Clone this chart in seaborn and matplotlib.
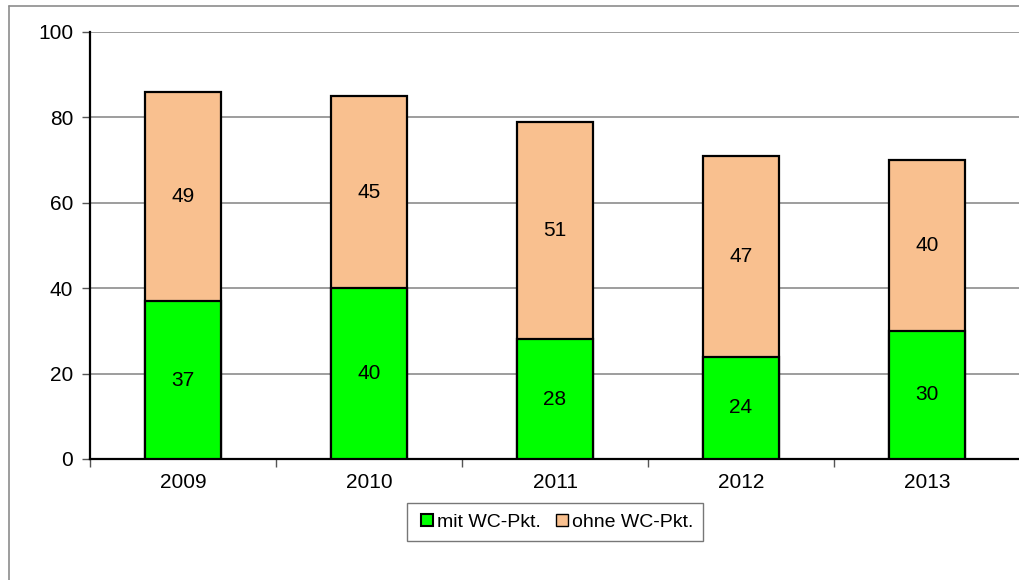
import matplotlib
matplotlib.use("Agg")
import matplotlib.pyplot as plt
import seaborn as sns
import pandas as pd
from matplotlib.lines import Line2D

years = ["2009", "2010", "2011", "2012", "2013"]
mit_wc = [37, 40, 28, 24, 30]
ohne_wc = [49, 45, 51, 47, 40]

green = "#00FF00"
peach = "#F9C08F"

sns.set_style("white")
plt.rcParams['font.family'] = ['Liberation Sans', 'DejaVu Sans']
plt.rcParams['text.color'] = 'black'
plt.rcParams['xtick.labelcolor'] = 'black'
plt.rcParams['ytick.labelcolor'] = 'black'

df = pd.DataFrame({"year": years, "mit": mit_wc, "ohne": ohne_wc})
df["total"] = df["mit"] + df["ohne"]

fig = plt.figure(figsize=(10.2, 5.8), dpi=100)
ax = fig.add_axes([90 / 1020, 1 - 459 / 580, 930 / 1020, 427 / 580])

# stacked: total in peach, green on top of it
sns.barplot(data=df, x="year", y="total", color=peach, width=0.405,
            edgecolor="black", linewidth=1.6, saturation=1, ax=ax, zorder=3)
sns.barplot(data=df, x="year", y="mit", color=green, width=0.405,
            edgecolor="black", linewidth=1.6, saturation=1, ax=ax, zorder=3)

for i, (m, o) in enumerate(zip(mit_wc, ohne_wc)):
    ax.text(i, m / 2, str(m), ha="center", va="center", fontsize=15, zorder=4)
    ax.text(i, m + o / 2, str(o), ha="center", va="center", fontsize=15, zorder=4)

ax.set_ylim(0, 100)
ax.set_xlim(-0.5, 4.5)
ax.set_yticks(range(0, 101, 20))
ax.yaxis.grid(True, color="#8c8c8c", linewidth=1.2, zorder=0)
ax.set_axisbelow(True)
ax.set_xlabel("")
ax.set_ylabel("")

for side in ["top", "right"]:
    ax.spines[side].set_visible(False)
ax.spines["left"].set_color("black")
ax.spines["left"].set_linewidth(1.6)
ax.spines["bottom"].set_color("black")
ax.spines["bottom"].set_linewidth(1.6)

ax.set_xticks(range(5))
ax.set_xticklabels(years)
ax.tick_params(axis="x", length=0, labelsize=15, pad=10)
ax.tick_params(axis="y", length=6, width=1, direction="out", labelsize=15,
               left=True, color="#555555", pad=6)
# category boundary ticks on x axis
ax.set_xticks([i - 0.5 for i in range(6)], minor=True)
ax.tick_params(axis="x", which="minor", length=6, width=1, color="#555555",
               bottom=True, direction="out")

handles = [
    Line2D([], [], marker="s", linestyle="", markersize=9, markerfacecolor=green,
           markeredgecolor="black", markeredgewidth=1.5, label="mit WC-Pkt."),
    Line2D([], [], marker="s", linestyle="", markersize=9, markerfacecolor=peach,
           markeredgecolor="black", markeredgewidth=1.0, label="ohne WC-Pkt."),
]
leg = fig.legend(handles=handles, loc="center", ncol=2, fontsize=14,
                 bbox_to_anchor=(555 / 1020, 1 - 522 / 580), frameon=True,
                 fancybox=False, handletextpad=0.0, columnspacing=0.6,
                 borderpad=0.5, handlelength=1.0)
leg.get_frame().set_edgecolor("#555555")
leg.get_frame().set_linewidth(1.0)

# outer chart-area border
fig.add_artist(Line2D([9 / 1020, 9 / 1020], [0, 1 - 6 / 580], transform=fig.transFigure,
                      color="#8c8c8c", linewidth=1.2))
fig.add_artist(Line2D([9 / 1020, 1], [1 - 6 / 580, 1 - 6 / 580], transform=fig.transFigure,
                      color="#8c8c8c", linewidth=1.2))

fig.savefig("out.png", dpi=100)
